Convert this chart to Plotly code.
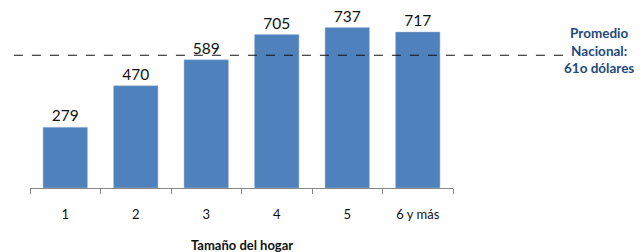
import plotly.graph_objects as go

categories = ["1", "2", "3", "4", "5", "6 y más"]
values = [279, 470, 589, 705, 737, 717]
promedio = 610
promedio_label = "Promedio<br>Nacional:<br>61o dólares"
x_title = "Tamaño del hogar"

FONT = "Lato, Open Sans, sans-serif"

fig = go.Figure()
fig.add_trace(go.Bar(
    x=categories, y=values,
    marker=dict(color="#4F81BD", line=dict(color="#A9C0DE", width=0.5)),
    text=[str(v) for v in values], textposition="outside",
    textfont=dict(family=FONT, size=15.5, color="#111111"),
    cliponaxis=False, width=0.63,
))
fig.add_shape(type="line", xref="paper", yref="y", x0=-0.038, x1=1.272,
              y0=promedio, y1=promedio,
              line=dict(color="#111111", width=1.2, dash="dash"))
fig.add_annotation(xref="paper", yref="paper", x=1.345, y=0.821, text=promedio_label,
                   showarrow=False, align="center", xanchor="center", yanchor="middle",
                   font=dict(family=FONT, size=13.5, color="#1F497D", weight="bold"))
fig.add_annotation(xref="paper", yref="paper", x=0.5, y=-0.34, text="<b>" + x_title + "</b>",
                   showarrow=False, xanchor="center", yanchor="middle",
                   font=dict(family=FONT, size=13, color="#111111"))
fig.update_layout(
    width=635, height=244,
    margin=dict(l=22, r=190, t=12, b=64, autoexpand=False),
    paper_bgcolor="white", plot_bgcolor="white",
    showlegend=False,
    xaxis=dict(showline=True, linecolor="#888888", linewidth=1,
               ticks="outside", tickson="boundaries", ticklen=5, tickcolor="#888888",
               ticklabelstandoff=14,
               tickfont=dict(family=FONT, size=13, color="#111111")),
    yaxis=dict(range=[0, 772], visible=False, showgrid=False),
)
fig.write_html("out.html")
